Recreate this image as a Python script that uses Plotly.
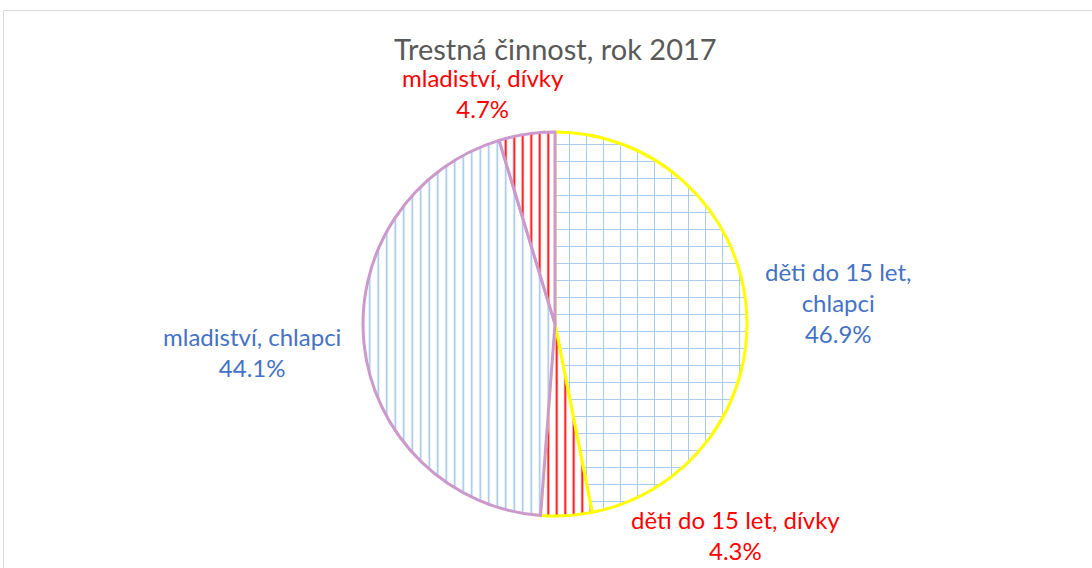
import plotly.graph_objects as go

categories = ["děti do 15 let, chlapci", "děti do 15 let, dívky", "mladiství, chlapci", "mladiství, dívky"]
values = [46.9, 4.3, 44.1, 4.7]
label_lines = ["děti do 15 let,<br>chlapci<br>46.9%", "děti do 15 let, dívky<br>4.3%",
               "mladiství, chlapci<br>44.1%", "mladiství, dívky<br>4.7%"]
label_colors = ["#4472C4", "#FF0000", "#4472C4", "#FF0000"]
title_text = "Trestná činnost, rok 2017"

W, H = 1092, 568
cx, cy, r = 555, 324, 192

fig = go.Figure(go.Pie(
    labels=categories,
    values=values,
    sort=False,
    direction="clockwise",
    rotation=0,
    textinfo="none",
    hoverinfo="label+percent",
    showlegend=False,
    domain=dict(x=[(cx - r) / W, (cx + r) / W], y=[(H - cy - r) / H, (H - cy + r) / H]),
    marker=dict(
        colors=["white"] * 4,
        line=dict(color=["#FFFF00", "#FFFF00", "#CC99CC", "#CC99CC"], width=3),
        pattern=dict(
            shape=["+", "|", "|", "|"],
            fgcolor=["#9DC3E6", "#FF0000", "#9DC3E6", "#FF0000"],
            bgcolor=["white"] * 4,
            size=[17, 8.5, 8.5, 8.5],
            solidity=[0.1, 0.22, 0.18, 0.22],
            fillmode="replace",
        ),
    ),
))

# label positions (pixels)
label_pos = [(838, 302), (735, 535), (252, 352), (483, 93)]
anns = []
for txt, col, (x, y) in zip(label_lines, label_colors, label_pos):
    anns.append(dict(text=txt, x=x / W, y=1 - y / H, xref="paper", yref="paper",
                     showarrow=False, xanchor="center", yanchor="middle",
                     font=dict(family="Lato, Open Sans, sans-serif", size=24, color=col),
                     align="center"))
anns.append(dict(text=title_text, x=555 / W, y=1 - 48 / H, xref="paper", yref="paper",
                 showarrow=False, xanchor="center", yanchor="middle",
                 font=dict(family="Lato, Open Sans, sans-serif", size=29, color="#595959")))

fig.update_layout(
    width=W, height=H,
    margin=dict(l=0, r=0, t=0, b=0),
    paper_bgcolor="white",
    annotations=anns,
    shapes=[dict(type="rect", xref="paper", yref="paper",
                 x0=3.5 / W, x1=1.05, y0=-0.05, y1=1 - 10.5 / H,
                 line=dict(color="#D9D9D9", width=1), fillcolor="rgba(0,0,0,0)")],
)

fig.write_html("out.html", config={"displayModeBar": False},
               post_script="document.body.style.margin='0';document.body.style.overflow='hidden';")
